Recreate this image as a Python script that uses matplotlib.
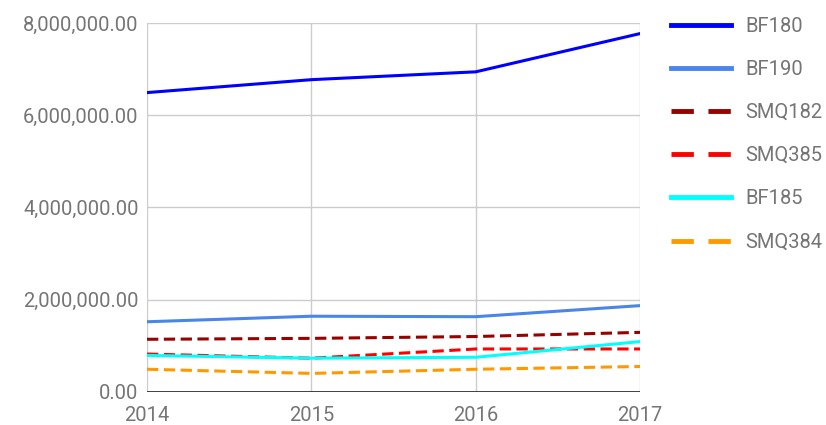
import matplotlib.pyplot as plt
from matplotlib.ticker import FuncFormatter

plt.rcParams['font.family'] = ['Roboto', 'DejaVu Sans']

years = [2014, 2015, 2016, 2017]
labels = ['BF180', 'BF190', 'SMQ182', 'SMQ385', 'BF185', 'SMQ384']
bf180 = [6490000, 6770000, 6940000, 7770000]
bf190 = [1520000, 1640000, 1630000, 1870000]
smq182 = [1140000, 1160000, 1200000, 1290000]
smq385 = [820000, 730000, 930000, 930000]
bf185 = [790000, 730000, 750000, 1090000]
smq384 = [490000, 400000, 490000, 550000]
series = [bf180, bf190, smq182, smq385, bf185, smq384]
colors = ['#0000ff', '#4a86e8', '#990000', '#ff0000', '#00ffff', '#ff9900']
dashed = [False, False, True, True, False, True]

fig = plt.figure(figsize=(8.26, 4.25), dpi=100)
ax = fig.add_axes([0.178, 0.078, 0.597, 0.868])

for vals, lab, c, d in zip(series, labels, colors, dashed):
    ls = (0, (3.7, 1.8)) if d else '-'
    ax.plot(years, vals, color=c, lw=2.2, ls=ls, label=lab)

ax.set_xlim(2014, 2017)
ax.set_ylim(0, 8000000)
ax.set_xticks(years)
ax.set_yticks([0, 2000000, 4000000, 6000000, 8000000])
ax.yaxis.set_major_formatter(FuncFormatter(lambda v, p: '{:,.2f}'.format(v)))
ax.grid(True, color='#cccccc', lw=1)
ax.axhline(0, color='#333333', lw=1.3, zorder=3)
for s in ['top', 'right', 'left', 'bottom']:
    ax.spines[s].set_visible(False)
ax.tick_params(length=0, labelsize=14.5, colors='#757575')
ax.tick_params(axis='y', pad=6)
ax.tick_params(axis='x', pad=10)

leg = ax.legend(loc='upper left', bbox_to_anchor=(1.025, 1.066), frameon=False,
                fontsize=14.5, labelcolor='#757575', handlelength=3,
                handletextpad=0.7, labelspacing=1.2)
for ln, d in zip(leg.get_lines(), dashed):
    ln.set_linewidth(3.5)
    if d:
        ln.set_linestyle((0, (4.6, 3.0)))

fig.savefig('out.png', dpi=100)
